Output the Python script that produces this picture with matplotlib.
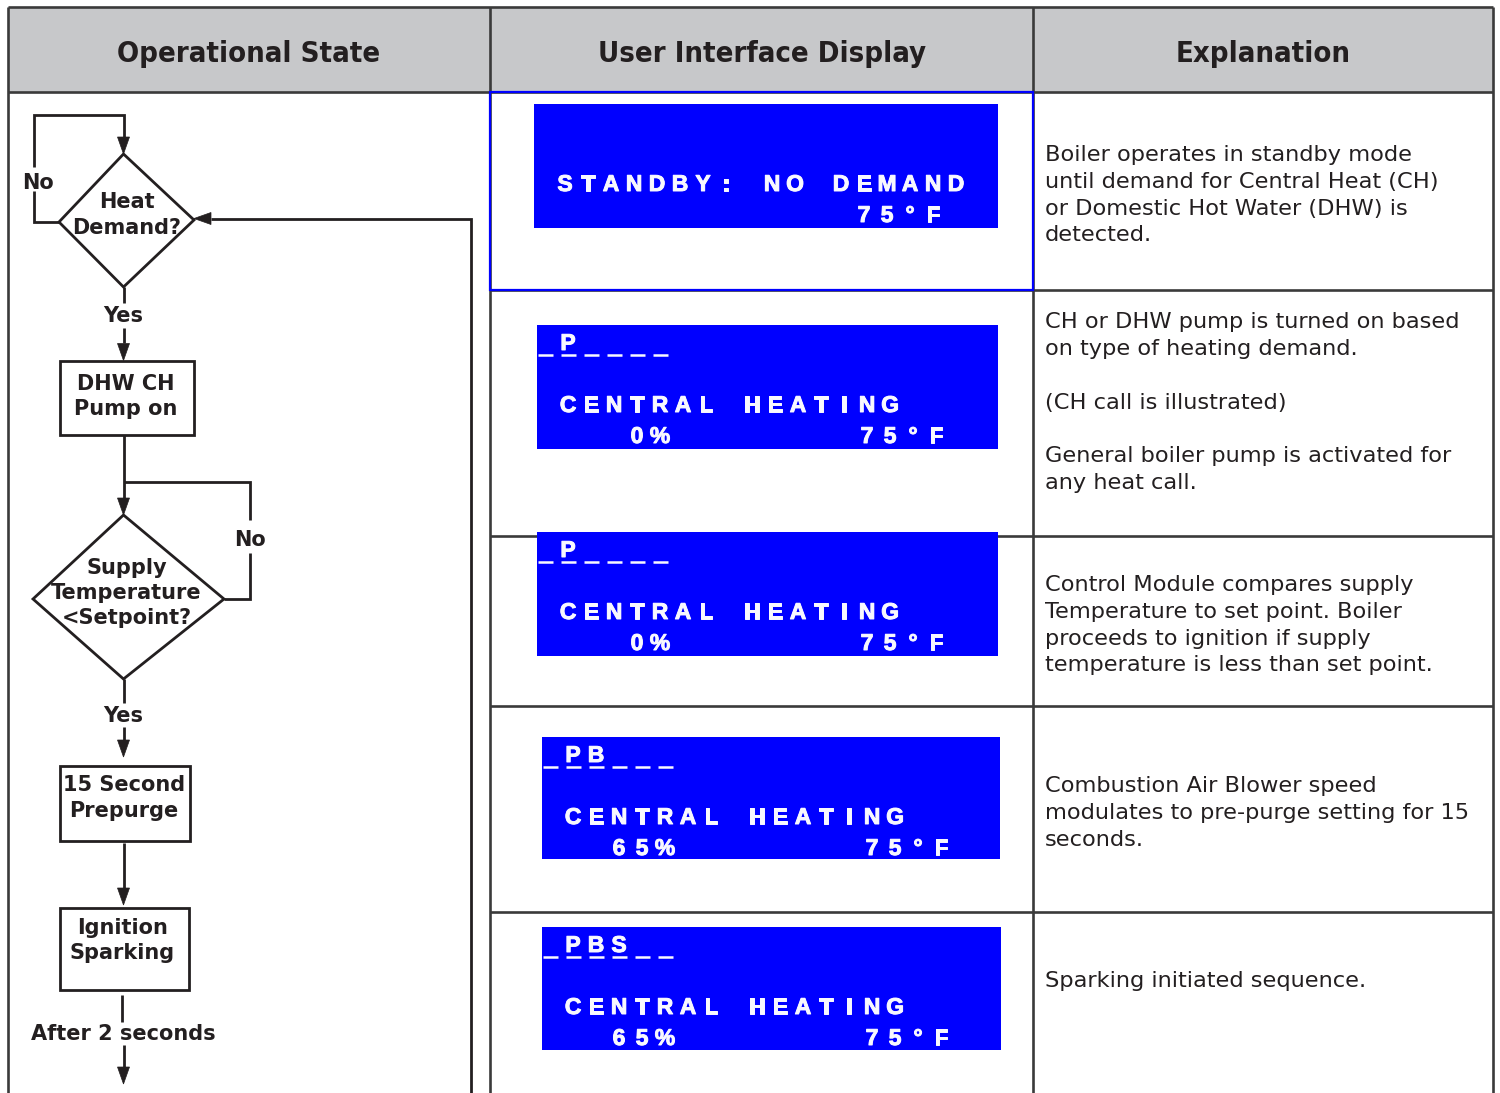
import matplotlib
matplotlib.use("Agg")
import matplotlib.pyplot as plt
import matplotlib.patheffects as pe
from matplotlib.patches import Polygon, Rectangle
from matplotlib.font_manager import FontProperties, findfont

# ---------------- data ----------------
headers = ["Operational State", "User Interface Display", "Explanation"]

explanations = [
    ["Boiler operates in standby mode",
     "until demand for Central Heat (CH)",
     "or Domestic Hot Water (DHW) is",
     "detected."],
    ["CH or DHW pump is turned on based",
     "on type of heating demand.",
     "",
     "(CH call is illustrated)",
     "",
     "General boiler pump is activated for",
     "any heat call."],
    ["Control Module compares supply",
     "Temperature to set point. Boiler",
     "proceeds to ignition if supply",
     "temperature is less than set point."],
    ["Combustion Air Blower speed",
     "modulates to pre-purge setting for 15",
     "seconds."],
    ["Sparking initiated sequence."],
]

display_status = ["", "P", "P", "PB", "PBS"]          # letters over the 6 status slots
display_mode = ["STANDBY: NO DEMAND", "CENTRAL HEATING", "CENTRAL HEATING",
                "CENTRAL HEATING", "CENTRAL HEATING"]
display_rate = ["", "0%", "0%", "65%", "65%"]
display_temp = ["75°F", "75°F", "75°F", "75°F", "75°F"]

flow_boxes = [["DHW CH", "Pump on"], ["15 Second", "Prepurge"], ["Ignition", "Sparking"]]
flow_diamonds = [["Heat", "Demand?"], ["Supply", "Temperature", "<Setpoint?"]]
flow_labels = ["No", "Yes", "No", "Yes", "After 2 seconds"]

# ---------------- layout ----------------
W, H = 1500, 1093
fig = plt.figure(figsize=(15, 10.93), dpi=100)
ax = fig.add_axes([0, 0, 1, 1])
ax.set_xlim(0, W)
ax.set_ylim(H, 0)
ax.axis("off")

LINE = "#3a3a3a"
INK = "#231f20"
BLUE = "#0000ff"
GRAY = "#c7c8ca"
LCD = "#f8f8ff"

X0, X1, X2, X3 = 8, 490, 1033, 1493
Y_TOP, Y_HEAD = 7, 92
row_lines = [290, 536, 706, 912]

# header background
ax.add_patch(Rectangle((X0, Y_TOP), X3 - X0, Y_HEAD - Y_TOP, facecolor=GRAY, edgecolor="none", zorder=0))

tlw = 1.9
for y in (Y_TOP, Y_HEAD):
    ax.plot([X0, X3], [y, y], color=LINE, lw=tlw, solid_capstyle="butt", zorder=2)
for x in (X0, X1, X2, X3):
    ax.plot([x, x], [Y_TOP, H], color=LINE, lw=tlw, solid_capstyle="butt", zorder=2)
for y in row_lines:
    ax.plot([X1, X3], [y, y], color=LINE, lw=tlw, solid_capstyle="butt", zorder=2)
# blue highlight around first display cell
ax.add_patch(Rectangle((X1, Y_HEAD), X2 - X1, row_lines[0] - Y_HEAD, facecolor="none",
                       edgecolor=BLUE, lw=1.6, zorder=3))

# header font
hp = FontProperties(family="DejaVu Sans", weight="bold", stretch="condensed")
cond = "condensed" in findfont(hp).lower()
hsize = 21 if cond else 19.3
header_x = [249, 762, 1263]
for t, x in zip(headers, header_x):
    ax.text(x, 62, t, ha="center", va="baseline", fontsize=hsize, fontfamily="DejaVu Sans",
            fontweight="bold", fontstretch="condensed", color=INK, zorder=4)

# explanations
exp_first_baseline = [161, 328.5, 591, 792.5, 987]
exp_pitch = 26.8
for lines, y0 in zip(explanations, exp_first_baseline):
    for i, ln in enumerate(lines):
        if ln:
            ax.text(1045, y0 + i * exp_pitch, ln, ha="left", va="baseline", fontsize=16.2,
                    fontfamily="DejaVu Sans", color=INK, zorder=4)

# displays
box_rects = [(534, 104, 998, 228), (537, 325, 998, 449), (537, 532, 998, 656),
             (542, 737, 1000, 859), (542, 927, 1001, 1050)]
PITCH = 23.0
dfont = dict(fontsize=16.5, fontfamily=["Liberation Sans", "DejaVu Sans"], fontweight="bold",
             color=LCD, ha="center", va="baseline", zorder=6,
             path_effects=[pe.withStroke(linewidth=0.7, foreground=LCD)])

def put_string(s, col_start, x0, y):
    for k, ch in enumerate(s):
        if ch != " ":
            ax.text(x0 + (col_start + k) * PITCH, y, ch, **dfont)

for i, (l, t, r, b) in enumerate(box_rects):
    ax.add_patch(Rectangle((l, t), r - l, b - t, facecolor=BLUE, edgecolor="none", zorder=5))
    x0 = l + 8
    if i > 0:
        for k in range(6):
            cx = x0 + k * PITCH
            ax.plot([cx - 7.5, cx + 7.5], [t + 29.5, t + 29.5], color=LCD, lw=1.8,
                    solid_capstyle="butt", zorder=6)
        put_string(display_status[i], 1, x0, t + 25)
    put_string(display_mode[i], 1, x0, t + 87)
    rate = display_rate[i]
    put_string(rate, 6 - len(rate), x0, t + 118)
    put_string(display_temp[i], 14, x0, t + 118)

# ---------------- flowchart ----------------
FLW = 2.0
CX = 123.5

def seg(xs, ys):
    ax.plot(xs, ys, color=INK, lw=FLW, solid_capstyle="butt", solid_joinstyle="miter", zorder=3)

def arrow_down(x, tip, length=17, half=6):
    ax.add_patch(Polygon([(x - half, tip - length), (x + half, tip - length), (x, tip)],
                         closed=True, facecolor=INK, edgecolor=INK, lw=0.5, zorder=3))

def arrow_left(tip, y, length=17, half=6):
    ax.add_patch(Polygon([(tip + length, y - half), (tip + length, y + half), (tip, y)],
                         closed=True, facecolor=INK, edgecolor=INK, lw=0.5, zorder=3))

ff = dict(fontfamily="DejaVu Sans", fontweight="bold", color=INK, ha="center", va="baseline", zorder=4)

# diamond 1
d1 = [(CX, 154), (194, 220), (CX, 287), (59, 222)]
ax.add_patch(Polygon(d1, closed=True, facecolor="white", edgecolor=INK, lw=FLW, zorder=3))
for txt, y in zip(flow_diamonds[0], [208, 233.5]):
    ax.text(127, y, txt, fontsize=15, **ff)
# no loop 1
seg([59, 34, 34], [222, 222, 191])
seg([34, 34, CX, CX], [167, 115, 115, 137])
arrow_down(CX, 154)
ax.text(38, 189, flow_labels[0], fontsize=15, **ff)
# feedback loop from below
seg([471, 471, 211], [H, 218.5, 218.5])
arrow_left(194, 218.5)
# yes 1
seg([CX, CX], [287, 303])
ax.text(CX, 322.5, flow_labels[1], fontsize=15, **ff)
seg([CX, CX], [328, 343])
arrow_down(CX, 360.5)

# box DHW
ax.add_patch(Rectangle((59.5, 361), 134, 74, facecolor="white", edgecolor=INK, lw=FLW, zorder=3))
for txt, y in zip(flow_boxes[0], [390, 415]):
    ax.text(126, y, txt, fontsize=15, **ff)
seg([CX, CX], [435, 498])
arrow_down(CX, 515)
# no loop 2
seg([CX, 250, 250], [481.5, 481.5, 520])
seg([250, 250, 224], [553, 599, 599])
ax.text(250, 546.5, flow_labels[2], fontsize=15, **ff)

# diamond 2
d2 = [(CX, 515), (224, 599), (CX, 679), (33, 599)]
ax.add_patch(Polygon(d2, closed=True, facecolor="white", edgecolor=INK, lw=FLW, zorder=3))
for txt, y in zip(flow_diamonds[1], [573.5, 599, 623.5]):
    ax.text(126.5, y, txt, fontsize=15, **ff)
seg([CX, CX], [679, 703])
ax.text(CX, 721.5, flow_labels[3], fontsize=15, **ff)
seg([CX, CX], [727, 740])
arrow_down(CX, 757)

# box prepurge
ax.add_patch(Rectangle((59.5, 766), 130.5, 75, facecolor="white", edgecolor=INK, lw=FLW, zorder=3))
for txt, y in zip(flow_boxes[1], [791, 817]):
    ax.text(123.8, y, txt, fontsize=15, **ff)
seg([CX, CX], [843, 888])
arrow_down(CX, 905)

# box ignition
ax.add_patch(Rectangle((59.5, 908), 129, 82, facecolor="white", edgecolor=INK, lw=FLW, zorder=3))
for txt, y in zip(flow_boxes[2], [934, 959]):
    ax.text(122.5, y, txt, fontsize=15, **ff)
seg([122.3, 122.3], [995, 1022])
ax.text(123.8, 1040, flow_labels[4], fontsize=15, **ff)
seg([CX, CX], [1045, 1068])
arrow_down(CX, 1084)

fig.savefig("out.png", dpi=100, facecolor="white")
